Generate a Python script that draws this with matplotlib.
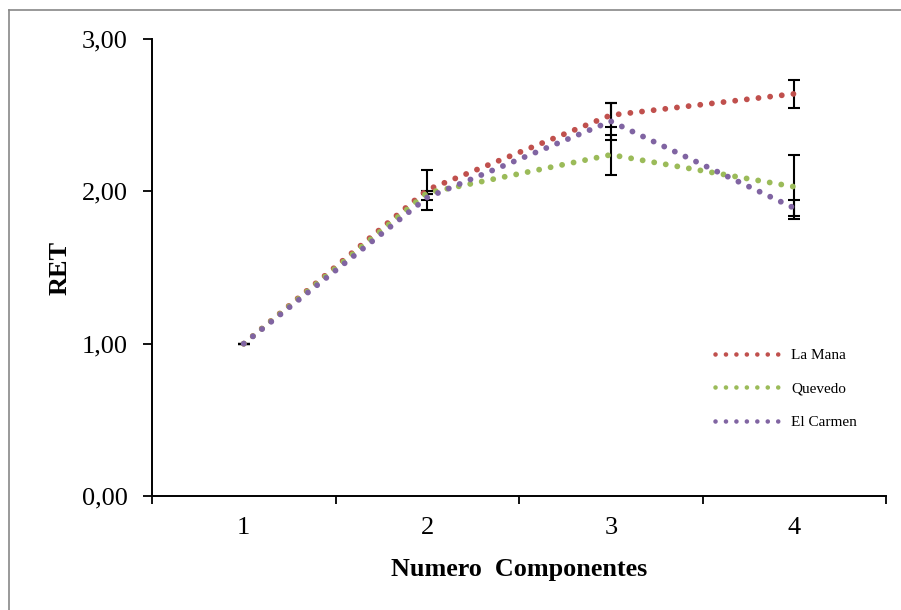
import numpy as np
import matplotlib.pyplot as plt
from matplotlib.lines import Line2D

plt.rcParams['font.family'] = ['Liberation Serif', 'DejaVu Serif']

# datos
componentes = [1, 2, 3, 4]
series = ['La Mana', 'Quevedo', 'El Carmen']
la_mana = [1.00, 2.01, 2.50, 2.64]
quevedo = [1.00, 1.99, 2.24, 2.03]
el_carmen = [1.00, 1.96, 2.46, 1.89]
err_la_mana = [0.0, 0.13, 0.08, 0.09]
err_quevedo = [0.0, 0.01, 0.13, 0.21]
err_el_carmen = [0.0, 0.02, 0.12, 0.05]
y_ticks = [0, 1, 2, 3]
y_labels = ['0,00', '1,00', '2,00', '3,00']

colores = ['#C0504D', '#9BBB59', '#8064A2']

fig = plt.figure(figsize=(9.01, 6.10), dpi=100)
ax = fig.add_axes([152 / 901, 1 - 496 / 610, 734 / 901, 457 / 610])

valores = [la_mana, quevedo, el_carmen]
errores = [err_la_mana, err_quevedo, err_el_carmen]

for vals, err in zip(valores, errores):
    ax.errorbar(componentes, vals, yerr=err, fmt='none', ecolor='black',
                elinewidth=1.5, capsize=4, capthick=1.5, zorder=2)

for vals, c, nombre in zip(valores, colores, series):
    ax.plot(componentes, vals, color=c, lw=4.2, linestyle=(0, (0.01, 2.0)),
            dash_capstyle='round', zorder=3, label=nombre)

ax.set_xlim(0.5, 4.5)
ax.set_ylim(0, 3)

ax.set_xticks(componentes)
ax.set_xticklabels([str(c) for c in componentes])
ax.set_xticks(np.arange(0.5, 4.6, 1), minor=True)
ax.tick_params(axis='x', which='major', length=0, pad=15, labelsize=19)
ax.tick_params(axis='x', which='minor', length=6, width=1.3, direction='out')
ax.set_yticks(y_ticks)
ax.set_yticklabels(y_labels)
ax.tick_params(axis='y', length=6.5, width=1.3, direction='out', pad=11,
               labelsize=19)

for s in ['top', 'right']:
    ax.spines[s].set_visible(False)
for s in ['left', 'bottom']:
    ax.spines[s].set_linewidth(1.4)

ax.set_xlabel('Numero  Componentes', fontsize=18.8, fontweight='bold', labelpad=14)
ax.set_ylabel('RET', fontsize=19, fontweight='bold')
ax.yaxis.set_label_coords(-0.110, 0.5)

handles = [Line2D([], [], color=c, lw=3.3, linestyle=(0, (0.01, 2.27)),
                  dash_capstyle='round') for c in colores]
ax.legend(handles, series, loc='upper left', bbox_to_anchor=(0.767, 0.3235),
          frameon=False, fontsize=11, handlelength=4.4, handletextpad=0.6,
          labelspacing=1.31, borderpad=0, borderaxespad=0)

# marco gris del grafico
fig.add_artist(Line2D([9 / 901, 9 / 901], [0, 1 - 10 / 610],
                      transform=fig.transFigure, color='#888888', lw=1.2))
fig.add_artist(Line2D([9 / 901, 1], [1 - 10 / 610, 1 - 10 / 610],
                      transform=fig.transFigure, color='#888888', lw=1.2))

fig.savefig('out.png', dpi=100)
